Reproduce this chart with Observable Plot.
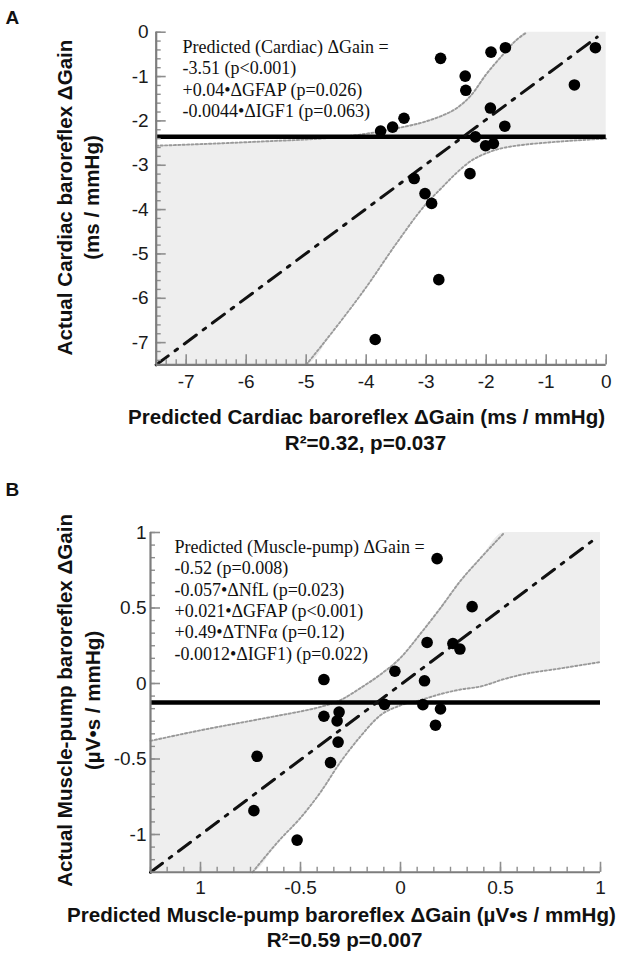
<!DOCTYPE html>
<html>
<head>
<meta charset="utf-8">
<script src="https://cdn.jsdelivr.net/npm/d3@7"></script>
<script src="https://cdn.jsdelivr.net/npm/@observablehq/plot@0.6"></script>
<style>
html, body { margin: 0; padding: 0; background: #fff; }
#wrap { width: 624px; }
#wrap svg { display: block; }
</style>
</head>
<body>
<div id="wrap"></div>
<script>
// ---------- Panel A (Cardiac) data ----------
const aPredicted = [-2.76, -1.92, -1.68, -2.35, -2.34, -0.18, -0.53, -1.93, -1.69, -3.37, -3.56, -3.76, -2.18, -2.01, -1.88, -2.27, -3.20, -3.02, -2.91, -2.79, -3.85];
const aActual    = [-0.59, -0.45, -0.35, -0.99, -1.31, -0.35, -1.19, -1.71, -2.12, -1.94, -2.14, -2.23, -2.36, -2.56, -2.51, -3.19, -3.30, -3.64, -3.86, -5.58, -6.93];
const aMean = -2.36;
const aRegX = [-7.5, -0.15];
const aRegY = [-7.5, -0.11];
const aBandX  = [-7.5, -6.5, -5.5, -5.0, -4.5, -4.0, -3.5, -3.0, -2.75, -2.5, -2.25, -2.0, -1.75, -1.5, -1.32, -1.0, -0.5, 0];
const aBandHi = [-2.56, -2.51, -2.45, -2.42, -2.37, -2.29, -2.17, -2.01, -1.89, -1.72, -1.42, -0.95, -0.55, -0.18, 0, null, null, null];
const aBandLo = [null, null, null, -7.5, -6.65, -5.75, -4.77, -3.87, -3.52, -3.18, -2.90, -2.73, -2.62, -2.56, -2.53, -2.49, -2.44, -2.40];
const aXTicks = [-7, -6, -5, -4, -3, -2, -1, 0];
const aXTickLabels = ["-7", "-6", "-5", "-4", "-3", "-2", "-1", "0"];
const aYTicks = [0, -1, -2, -3, -4, -5, -6, -7];
const aYTickLabels = ["0", "-1", "-2", "-3", "-4", "-5", "-6", "-7"];
const aEquation = ["Predicted (Cardiac) \u0394Gain =", "-3.51 (p<0.001)", "+0.04\u2022\u0394GFAP (p=0.026)", "-0.0044\u2022\u0394IGF1 (p=0.063)"];
const aXTitle = "Predicted Cardiac baroreflex \u0394Gain (ms / mmHg)";
const aStat = "R\u00B2=0.32, p=0.037";
const aYTitle = ["Actual Cardiac baroreflex \u0394Gain", "(ms / mmHg)"];

// ---------- Panel B (Muscle-pump) data ----------
const bPredicted = [-0.08, -0.383, -0.307, -0.317, -0.312, -0.35, -0.717, -0.733, -0.517, 0.183, 0.358, 0.133, 0.262, 0.297, -0.028, 0.12, -0.383, 0.112, 0.20, 0.175];
const bActual    = [-0.138, -0.217, -0.189, -0.248, -0.388, -0.524, -0.482, -0.842, -1.037, 0.827, 0.509, 0.272, 0.265, 0.228, 0.081, 0.018, 0.026, -0.14, -0.169, -0.276];
const bMean = -0.125;
const bRegX = [-1.25, 0.985];
const bRegY = [-1.25, 0.97];
const bBandX  = [-1.25, -1.0, -0.74, -0.6, -0.5, -0.4, -0.3, -0.2, -0.1, 0, 0.1, 0.2, 0.3, 0.4, 0.52, 0.6, 0.8, 1.0];
const bBandHi = [-0.38, -0.31, -0.245, -0.21, -0.185, -0.155, -0.11, -0.03, 0.06, 0.17, 0.33, 0.50, 0.68, 0.83, 1.0, null, null, null];
const bBandLo = [null, null, -1.25, -1.03, -0.89, -0.72, -0.52, -0.35, -0.21, -0.145, -0.11, -0.07, -0.04, -0.02, 0.03, 0.057, 0.10, 0.142];
const bXTicks = [-1, -0.5, 0, 0.5, 1];
const bXTickLabels = ["1", "-0.5", "0", "0.5", "1"];
const bYTicks = [1, 0.5, 0, -0.5, -1];
const bYTickLabels = ["1", "0.5", "0", "-0.5", "-1"];
const bEquation = ["Predicted (Muscle-pump) \u0394Gain =", "-0.52 (p=0.008)", "-0.057\u2022\u0394NfL (p=0.023)", "+0.021\u2022\u0394GFAP (p<0.001)", "+0.49\u2022\u0394TNF\u03B1 (p=0.12)", "-0.0012\u2022\u0394IGF1) (p=0.022)"];
const bXTitle = "Predicted Muscle-pump baroreflex \u0394Gain (\u00B5V\u2022s / mmHg)";
const bStat = "R\u00B2=0.59 p=0.007";
const bYTitle = ["Actual Muscle-pump baroreflex \u0394Gain", "(\u00B5V\u2022s / mmHg)"];

const SANS = "'Liberation Sans', Arial, Helvetica, sans-serif";
const SERIF = "'Liberation Serif', 'Times New Roman', serif";
const AXIS_GRAY = "#7d7d7d";
const TICK_GRAY = "#8e8e8e";

function panel(o) {
  const W = 624;
  const fw = W - o.ml - o.mr;
  const fh = o.height - o.mt - o.mb;
  const band = o.bandX.map((x, i) => ({x, lo: o.bandLo[i], hi: o.bandHi[i]}));
  const areaData = band.map(d => ({x: d.x, y1: d.lo == null ? o.yDomain[0] : d.lo, y2: d.hi == null ? o.yDomain[1] : d.hi}));
  const upper = band.filter(d => d.hi != null);
  const lower = band.filter(d => d.lo != null);
  const pts = o.px.map((x, i) => ({x, y: o.py[i]}));
  const reg = o.regX.map((x, i) => ({x, y: o.regY[i]}));
  const bandStyle = {stroke: "#9a9a9a", strokeWidth: 1.9, strokeDasharray: "2.2,2.2", curve: "monotone-x"};
  return Plot.plot({
    width: W, height: o.height,
    marginLeft: o.ml, marginRight: o.mr, marginTop: o.mt, marginBottom: o.mb,
    x: {domain: o.xDomain},
    y: {domain: o.yDomain},
    style: {fontFamily: SANS, background: "white", overflow: "visible", color: "#111"},
    marks: [
      Plot.areaY(areaData, {x: "x", y1: "y1", y2: "y2", fill: "#eeeeee", curve: "monotone-x"}),
      Plot.line(upper, {x: "x", y: "hi", ...bandStyle}),
      Plot.line(lower, {x: "x", y: "lo", ...bandStyle}),
      Plot.ruleY([o.mean], {stroke: "black", strokeWidth: 4.5}),
      Plot.line(reg, {x: "x", y: "y", stroke: "#111", strokeWidth: 3, strokeDasharray: "15,8.5,3,8.5"}),
      Plot.dot(pts, {x: "x", y: "y", r: 5.8, fill: "black", stroke: "none"}),
      // inward ticks
      Plot.tickY(o.yMinor, {y: d => d, stroke: TICK_GRAY, strokeWidth: 1.4, insetRight: fw - 5}),
      Plot.tickY(o.yTicks, {y: d => d, stroke: TICK_GRAY, strokeWidth: 1.6, insetRight: fw - 10}),
      Plot.tickX(o.xMinor, {x: d => d, stroke: TICK_GRAY, strokeWidth: 1.4, insetTop: fh - 5}),
      Plot.tickX(o.xTicks, {x: d => d, stroke: TICK_GRAY, strokeWidth: 1.6, insetTop: fh - 10}),
      // axis lines
      Plot.ruleX([o.xDomain[0]], {stroke: AXIS_GRAY, strokeWidth: 2.2}),
      Plot.ruleY([o.yDomain[0]], {stroke: AXIS_GRAY, strokeWidth: 2.2}),
      // tick labels
      Plot.axisY(o.yTicks, {tickSize: 0, tickPadding: o.yPad, label: null, fontSize: 19, fill: "#1a1a1a",
        tickFormat: d => o.yLabels[o.yTicks.indexOf(d)]}),
      Plot.axisX(o.xTicks, {tickSize: 0, tickPadding: o.xPad, label: null, fontSize: 19, fill: "#1a1a1a",
        tickFormat: d => o.xLabels[o.xTicks.indexOf(d)]}),
      // panel letter
      Plot.text([o.letter], {frameAnchor: "top-left", text: d => d, dx: 5 - o.ml, dy: o.letterY - o.mt,
        textAnchor: "start", lineAnchor: "middle", fontSize: 19, fontWeight: "bold", fill: "#111"}),
      // regression equation
      Plot.text([o.equation.join("\n")], {frameAnchor: "top-left", text: d => d, dx: o.eqX - o.ml, dy: o.eqY - o.mt,
        textAnchor: "start", lineAnchor: "top", lineHeight: 1.19, fontSize: 18, fontFamily: SERIF, fill: "#111"}),
      // x title & stat
      Plot.text([o.xTitle], {frameAnchor: "bottom", text: d => d, dx: o.xTitleX - (o.ml + fw / 2), dy: o.xTitleDy,
        textAnchor: "middle", lineAnchor: "middle", fontSize: 20.6, fontWeight: "bold", fill: "#111"}),
      Plot.text([o.stat], {frameAnchor: "bottom", text: d => d, dx: o.statX - (o.ml + fw / 2), dy: o.statDy,
        textAnchor: "middle", lineAnchor: "middle", fontSize: 20.6, fontWeight: "bold", fill: "#111"}),
      // y title (two lines)
      Plot.text([o.yTitle[0]], {frameAnchor: "left", text: d => d, dx: o.yT1X - o.ml, dy: o.yTitleDy, rotate: -90,
        textAnchor: "middle", lineAnchor: "middle", fontSize: 20.6, fontWeight: "bold", fill: "#111"}),
      Plot.text([o.yTitle[1]], {frameAnchor: "left", text: d => d, dx: o.yT2X - o.ml, dy: o.yTitleDy, rotate: -90,
        textAnchor: "middle", lineAnchor: "middle", fontSize: 20.6, fontWeight: "bold", fill: "#111"})
    ]
  });
}

const wrap = document.getElementById("wrap");

wrap.appendChild(panel({
  height: 470, ml: 155.7, mr: 18.3, mt: 31.7, mb: 105.7,
  xDomain: [-7.5, 0], yDomain: [-7.5, 0],
  px: aPredicted, py: aActual, mean: aMean, regX: aRegX, regY: aRegY,
  bandX: aBandX, bandHi: aBandHi, bandLo: aBandLo,
  xTicks: aXTicks, xLabels: aXTickLabels, yTicks: aYTicks, yLabels: aYTickLabels,
  xMinor: d3.range(-45, 1).map(k => k / 6),
  yMinor: d3.range(-37, 1).map(k => k / 5),
  yPad: 7.5, xPad: 10,
  letter: "A", letterY: 17,
  equation: aEquation, eqX: 182, eqY: 37,
  xTitle: aXTitle, xTitleX: 366, xTitleDy: 52.5,
  stat: aStat, statX: 365, statDy: 79,
  yTitle: aYTitle, yT1X: 65, yT2X: 92, yTitleDy: -1
}));

wrap.appendChild(panel({
  height: 500, ml: 150, mr: 24, mt: 62, mb: 98.25,
  xDomain: [-1.25, 1], yDomain: [-1.25, 1],
  px: bPredicted, py: bActual, mean: bMean, regX: bRegX, regY: bRegY,
  bandX: bBandX, bandHi: bBandHi, bandLo: bBandLo,
  xTicks: bXTicks, xLabels: bXTickLabels, yTicks: bYTicks, yLabels: bYTickLabels,
  xMinor: d3.range(-15, 13).map(k => k / 12),
  yMinor: d3.range(-15, 13).map(k => k / 12),
  yPad: 4, xPad: 8,
  letter: "B", letterY: 19,
  equation: bEquation, eqX: 174, eqY: 67,
  xTitle: bXTitle, xTitleX: 341, xTitleDy: 43,
  stat: bStat, statX: 344, statDy: 68,
  yTitle: bYTitle, yT1X: 65, yT2X: 93, yTitleDy: -2
}));
</script>
</body>
</html>
